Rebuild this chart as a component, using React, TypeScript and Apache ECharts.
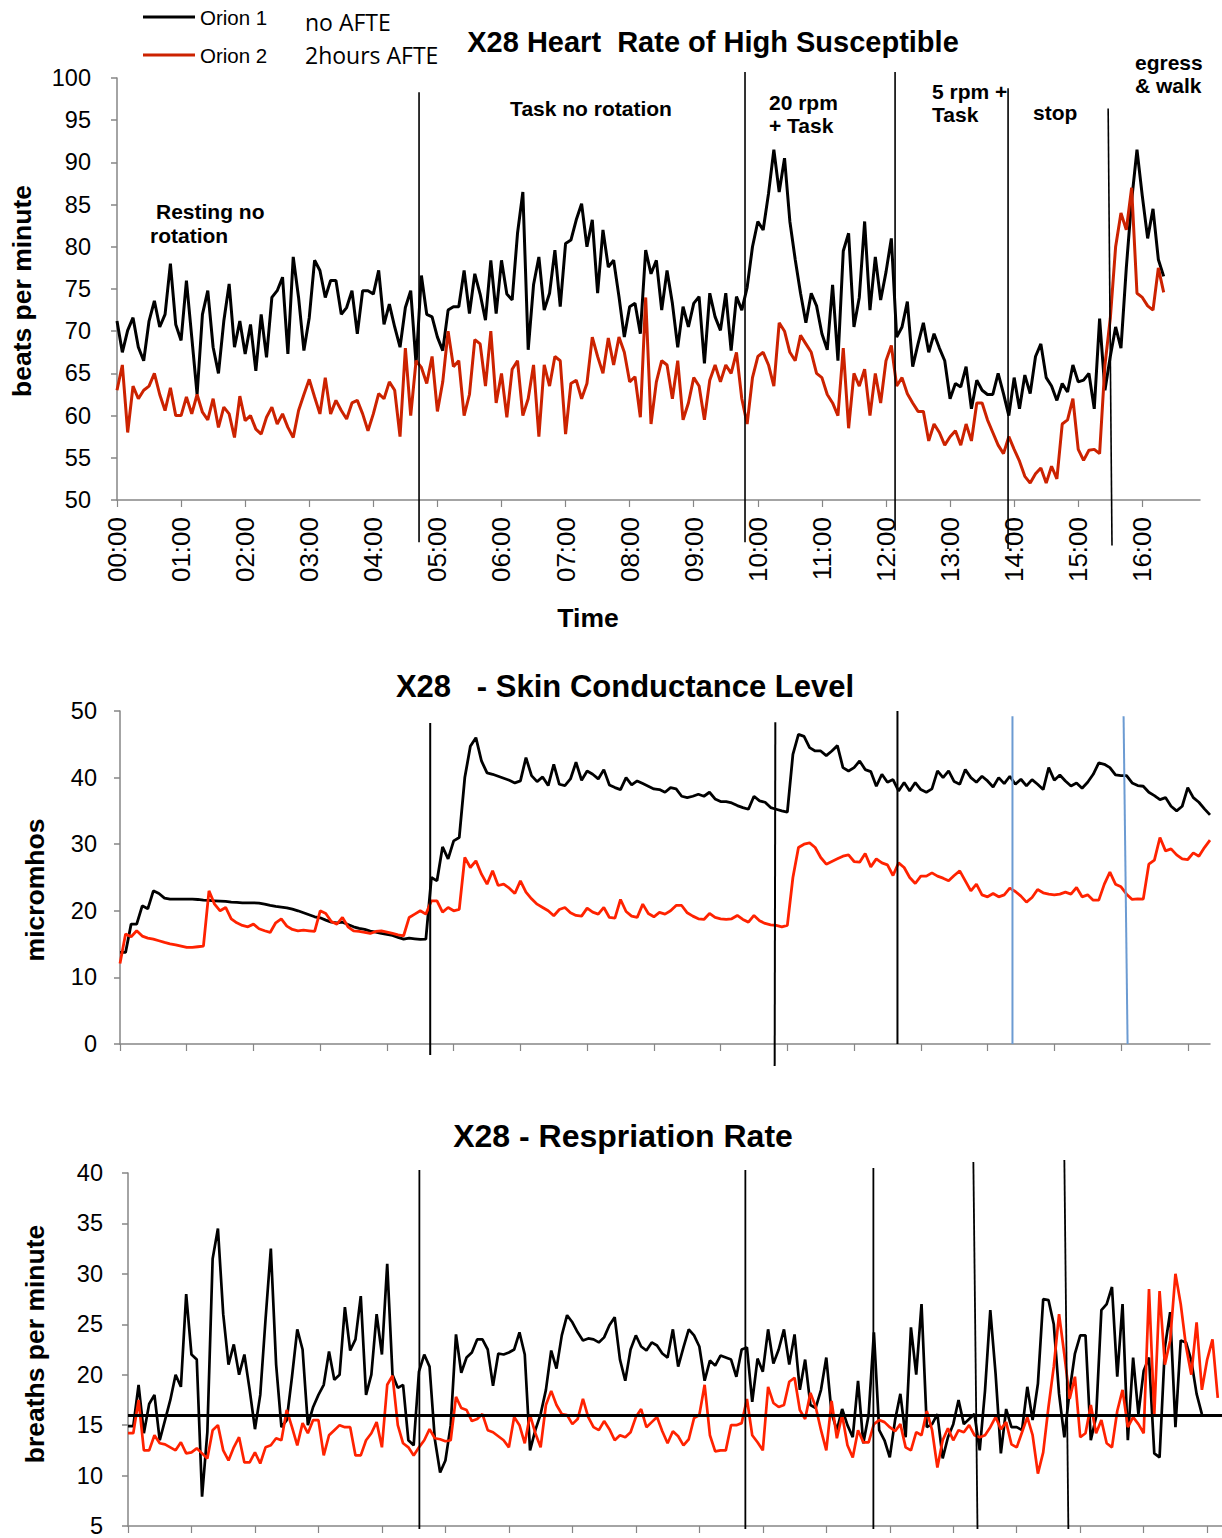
import React, { useEffect, useRef } from "react";
import * as echarts from "echarts";

// ---------- data ----------
const HR_STEP = 5; // minutes between samples
const SCL_STEP = 5;
const RR_STEP = 5;

const hrOrion1 = [71.2, 67.5, 70.1, 71.6, 68.1, 66.5, 71.2, 73.6, 70.5, 72,
  78, 70.8, 68.9, 76, 69.3, 62.5, 72, 74.8, 68.1, 65,
  71.2, 75.6, 68.1, 71.2, 67.3, 70.8, 65.3, 72, 66.9, 74,
  74.8, 76.4, 67.3, 78.8, 74, 67.7, 71.6, 78.4, 77.2, 74,
  76, 76, 72, 72.8, 74.8, 69.7, 74.8, 74.8, 74.4, 77.2,
  70.8, 73.2, 70.5, 68.1, 72.8, 74.8, 66.1, 76.6, 72, 71.7,
  69.3, 67.7, 72.5, 72.9, 72.9, 77.2, 72.1, 76.8, 74.4, 71.3,
  78.4, 72.1, 78.4, 74.4, 73.7, 81.6, 86.5, 67.8, 75.5, 78.8,
  72.5, 74.5, 79.6, 72.9, 80.4, 80.8, 83.2, 85.1, 80, 83.2,
  74.5, 82, 77.6, 78.4, 74.1, 69.3, 72.9, 73.3, 69.7, 79.6,
  76.8, 78.4, 72.5, 77.2, 73.3, 68.1, 72.9, 70.5, 73.3, 74.1,
  66.2, 74.5, 71.7, 70.1, 74.5, 67.7, 74.1, 72.5, 75.2, 80,
  83, 82, 86.3, 91.5, 86.5, 90.5, 83, 78.5, 74.5, 71,
  74.5, 73, 69.7, 67.8, 75.5, 66.5, 79.5, 81.6, 70.5, 74,
  83, 72.5, 78.8, 73.7, 77, 81, 69.3, 70.5, 73.5, 65.8,
  68.5, 71, 67.5, 69.7, 68, 66.5, 62, 63.8, 63.4, 65.8,
  60.8, 64.2, 63, 62.5, 62.5, 65, 62.6, 60, 64.5, 60.8,
  64.8, 62.6, 67, 68.5, 64.5, 63.5, 61.8, 63.8, 62.8, 66,
  64, 64.2, 65, 60.8, 71.5, 63, 67, 70.5, 68, 77.5,
  85.5, 91.5, 86, 81, 84.5, 78.5, 76.5];

const hrOrion2 = [63, 66, 58, 63.5, 62, 63, 63.5, 65, 62.5, 60.6,
  63.3, 60, 60, 62.2, 60.2, 62.5, 60.4, 59.5, 62, 58.6,
  61, 60.2, 57.4, 62.3, 59.4, 60, 58.4, 57.8, 59.8, 61,
  59, 60.2, 58.6, 57.4, 60.6, 62.5, 64.3, 62.2, 60.2, 64.5,
  60.2, 61.8, 60.6, 59.6, 61.5, 61.8, 60.2, 58.2, 60.2, 62.6,
  62, 64, 63, 57.5, 68, 60, 66.5, 65.7, 63.8, 67,
  60.5, 64, 70, 65.8, 66.5, 60, 62.5, 69, 68.5, 63.5,
  70, 61.5, 65, 59.8, 65.5, 66.5, 60, 62, 66, 57.5,
  66, 63.5, 67, 66.5, 57.8, 63.8, 64.2, 62, 63.8, 69.3,
  67, 65, 69.2, 66, 69.3, 67.5, 64, 64.6, 59.8, 74,
  59, 64, 66.5, 66, 62, 66.5, 59.5, 61.5, 64.5, 63.5,
  59.5, 64.2, 66, 64, 66, 65, 67.5, 62, 59, 64.5,
  67, 67.5, 66, 63.5, 71, 70, 67.5, 66.5, 69.5, 68.5,
  67.5, 65, 64.5, 62.5, 61.5, 60, 68, 58.5, 65, 63.5,
  65.5, 60, 65, 61.5, 66.5, 68.3, 63.5, 64.5, 62.6, 61.5,
  60.5, 60.5, 57, 59, 58, 56.5, 57.5, 58.2, 56.5, 59,
  57, 61.5, 61.5, 59.5, 58, 56.5, 55.5, 57.5, 56, 54.6,
  52.8, 52, 53.1, 53.8, 52, 54, 52.5, 59, 59.5, 62,
  56, 54.7, 55.9, 56, 55.5, 66, 71.5, 80, 84, 82,
  87, 74.5, 74, 73, 72.5, 77.5, 74.6];

const sclOrion1 = [13.75, 13.75, 18, 18, 20.75, 20.3, 23, 22.6, 21.9, 21.75,
  21.75, 21.75, 21.75, 21.75, 21.7, 21.6, 21.55, 21.5, 21.45, 21.4,
  21.3, 21.25, 21.2, 21.2, 21.2, 21.15, 21, 20.8, 20.65, 20.55,
  20.45, 20.25, 20, 19.7, 19.4, 19.1, 18.95, 18.6, 18.3, 18.2,
  18.3, 17.95, 17.6, 17.35, 17.2, 16.95, 16.8, 16.6, 16.45, 16.3,
  16, 15.75, 15.9, 15.8, 15.7, 15.75, 25, 24.5, 29.6, 27.8,
  30.5, 31, 40, 44.7, 46, 42.5, 40.7, 40.5, 40.2, 39.9,
  39.6, 39.2, 39.5, 43, 40.3, 39.4, 40.1, 38.8, 42, 39,
  38.8, 39.8, 42.3, 39.6, 41, 40.5, 39.8, 41.2, 38.9, 38.5,
  38.2, 40, 38.9, 39.5, 39.1, 38.7, 38.3, 38.2, 37.8, 38.5,
  38.3, 37.2, 37, 37.2, 37.5, 37.2, 37.8, 36.8, 36.4, 36.4,
  36.2, 35.8, 35.5, 35.25, 37.2, 36.5, 36.3, 35.5, 35.25, 35,
  34.8, 43.5, 46.5, 46.2, 44.5, 44, 44, 43.3, 44, 44.8,
  41.5, 41, 41.5, 42.5, 41.2, 40.9, 38.7, 40.5, 39.3, 39.7,
  38, 39.25, 38, 39.25, 38.2, 37.8, 38.3, 41, 40, 41,
  39.4, 39, 41.2, 40, 39.3, 40.2, 39.5, 38.6, 40, 39.1,
  40.2, 39, 39.75, 38.75, 39.7, 39, 38.2, 41.5, 39.6, 40.4,
  39.5, 38.75, 39.2, 38.4, 39.3, 40.5, 42.2, 42, 41.5, 40.4,
  40.3, 40.3, 39.2, 38.8, 38.7, 37.8, 37.3, 36.7, 37, 35.7,
  35, 35.7, 38.5, 37, 36.3, 35.3, 34.4];

const sclOrion2 = [12.1, 16.5, 16.1, 17, 16.2, 15.9, 15.75, 15.5, 15.25, 15.05,
  14.9, 14.7, 14.5, 14.5, 14.6, 14.7, 23, 21, 20, 20.5,
  18.8, 18.2, 17.8, 17.6, 18, 17.3, 17, 16.75, 18.2, 18.8,
  17.7, 17.2, 17, 17.1, 17, 16.9, 20, 19.6, 18.4, 18,
  19, 17.6, 17, 16.9, 16.75, 16.6, 16.9, 17, 16.8, 16.6,
  16.4, 16.25, 19, 19.5, 20, 19.5, 21.5, 21.5, 19.8, 20.5,
  20, 20.2, 28, 26.5, 27.5, 25.5, 24, 26, 23.8, 24,
  23.4, 22.6, 24.5, 22.8, 21.8, 21, 20.5, 20, 19.25, 20.2,
  20.5, 19.7, 19.3, 19.2, 20.4, 19.8, 19.5, 20.5, 19, 18.9,
  21.7, 19.9, 19.2, 19, 21, 19.6, 19.1, 19.75, 19.5, 20,
  20.8, 20.8, 19.7, 19.2, 18.8, 18.7, 19.6, 19, 18.8, 18.7,
  18.8, 19.3, 18.7, 18.3, 19.3, 18.5, 18.1, 17.9, 17.8, 17.6,
  17.8, 25, 29.5, 30, 30.2, 29.5, 28, 27, 27.4, 27.8,
  28.2, 28.4, 27.4, 27.3, 28.6, 26.6, 27.8, 27.2, 26.9, 25.3,
  27.2, 26.5, 25, 24.1, 25.2, 25.2, 25.7, 25.2, 24.9, 24.5,
  25.3, 26, 24.5, 23, 24, 22.4, 22.1, 22.6, 22.1, 22.4,
  23.4, 22.9, 22.2, 21.3, 22, 23.2, 22.7, 22.5, 22.4, 22.5,
  22.8, 22.5, 23.5, 22.1, 22.4, 21.6, 21.6, 24, 25.8, 24,
  23.6, 22.5, 21.7, 21.8, 21.75, 27, 27.6, 31, 29, 29.3,
  28.4, 27.8, 27.7, 28.7, 28.2, 29.5, 30.6];

const rrOrion1 = [14.9, 14.9, 19, 14.2, 17.1, 18, 13.5, 15.5, 17.5, 20,
  18.8, 28, 22, 21.5, 7.9, 14.3, 31.5, 34.5, 26, 21,
  23, 20, 22, 18.5, 14.6, 18, 25.5, 32.5, 21, 14.8,
  15.5, 19.8, 24.5, 22.5, 15, 16.8, 18, 19, 22.3, 19.5,
  20, 26.7, 22.4, 23.5, 27.8, 18, 20, 26, 22, 31,
  20, 18.7, 19, 13.5, 13, 20.3, 22, 20.8, 13.6, 10.3,
  11.5, 15, 24, 20.2, 21.7, 22.2, 23.5, 23.5, 22.5, 18.9,
  22.1, 22, 22.2, 22.5, 24.2, 22, 12.5, 14.5, 16.1, 18.5,
  22.4, 20.6, 23.9, 25.9, 25.2, 24.2, 23.4, 23.6, 23.5, 23.2,
  23.7, 24.9, 25.7, 21.5, 19.4, 22.5, 23.9, 22.8, 22.4, 23.2,
  22.9, 22.1, 21.7, 24.5, 20.8, 22.7, 24.5, 23.9, 22.8, 19.4,
  21.4, 20.9, 21.9, 21.7, 21.5, 19.8, 22.5, 22.7, 17.3, 21.6,
  20.3, 24.5, 21.1, 22.5, 24.5, 21, 24, 18.5, 21.5, 17,
  16.7, 18.5, 21.7, 16.2, 14.5, 16.6, 15, 13.8, 19.4, 13.2,
  16, 24.2, 14.5, 13.5, 11.8, 15.5, 18.1, 13.8, 24.7, 20,
  27, 14.8, 15.1, 16.1, 11.7, 13.8, 15.1, 17.5, 15.1, 15.6,
  16.1, 12.5, 18.4, 26.4, 20.1, 12.2, 16.6, 14.8, 14.8, 14.5,
  18.8, 15.5, 19.1, 27.5, 27.4, 25, 18.1, 13.8, 18.4, 22.1,
  23.9, 23.9, 13.5, 15.8, 26.4, 27, 28.7, 19.8, 27, 13.5,
  21.7, 16.1, 20.4, 21.7, 12.2, 11.8, 22.7, 26.2, 14.8, 23.4,
  23.2, 21.4, 18.1, 16.1];

const rrOrion2 = [14.2, 14.2, 17.5, 12.5, 12.5, 14, 13.2, 13.1, 12.8, 12.5,
  13.3, 12.2, 12.3, 12.7, 12.2, 11.7, 14.5, 15, 12.5, 11.5,
  12.8, 13.8, 11.3, 11.3, 12.3, 11.2, 12.8, 13, 13.7, 13.5,
  16.5, 14.8, 13, 15.2, 14.2, 15.5, 15.5, 12, 14, 14.5,
  15, 14.8, 14.8, 12, 12, 13.5, 14.2, 15.3, 12.8, 19,
  19.9, 15, 13.2, 12.8, 12, 12.8, 13.5, 14.6, 13.7, 13.6,
  13.4, 13.5, 17.8, 16.7, 16.5, 15.4, 15.6, 16.1, 14.5, 14.3,
  13.9, 13.5, 12.8, 15.8, 15, 13.2, 16, 14.2, 12.8, 17,
  18.4, 17, 16.1, 16, 15.1, 15.6, 17.6, 15.8, 14.8, 14.5,
  15.4, 14.6, 13.5, 14, 13.8, 14.3, 15.8, 16.6, 14.8, 15.3,
  15.8, 14.4, 13.2, 14.4, 13.9, 13, 13.6, 15.7, 16, 19,
  14, 12.4, 12.5, 12.5, 15, 15, 15.2, 17.6, 14, 13.3,
  12.5, 18.8, 17.2, 16.8, 17, 19.3, 19.7, 16.5, 15.6, 18.2,
  16.8, 14.5, 12.5, 17.4, 13.7, 16, 13, 11.8, 14.5, 13.3,
  13.3, 15.1, 15.5, 15.3, 14.8, 14.4, 15.1, 12.8, 12.5, 14.3,
  14, 16.4, 14.5, 10.8, 13.5, 14.7, 13.5, 14.5, 14.3, 15,
  14, 13.8, 14, 14.8, 15.8, 14.6, 15.3, 13.1, 12.8, 14.3,
  15.8, 14, 10.2, 12.3, 16.8, 20.8, 26, 22, 17.6, 19.8,
  13.8, 14.2, 17, 14.2, 15.5, 13.2, 12.8, 16.4, 18.5, 14.8,
  15.8, 15.1, 14.2, 28.5, 16, 28.3, 21, 23.4, 30, 27,
  22.8, 20, 25.2, 18.5, 21.5, 23.5, 17.7];

const hourTicks = [0, 60, 120, 180, 240, 300, 360, 420, 480, 540, 600, 660, 720, 780, 840, 900, 960];
const rrTicks = [...hourTicks, 1020];

// phase boundary lines: [t top, t bottom, value top, value bottom]
const hrPhaseLines = [[282.8, 282.8, 98.3, 45.0], [588, 588, 100.7, 45.0], [728.5, 728.5, 100.7, 46.4], [834.3, 834.3, 98.8, 44.2], [928, 931.6, 96.4, 44.6]];
const sclPhaseLines = [[278.9, 278.9, 48.2, -1.65], [589.2, 588.6, 48.3, -3.3], [699, 699, 50, 0]];
const sclBlueLines = [[802.4, 802.4, 49.2, 0], [902.3, 905.9, 49.2, 0]];
const rrPhaseLines = [[275.4, 275.4, 40.3, 4.7], [583.5, 583.5, 40.3, 4.7], [704.5, 704.5, 40.5, 4.7], [799, 802.9, 41.1, 4.7], [885, 888.8, 41.3, 4.7]];

const FONT = '"Liberation Sans", Arial, sans-serif';
const BLACK = "#000000";
const RED_DARK = "#cc2200";
const RED = "#ff2200";
const AXIS_GREY = "#868686";

const toPairs = (vals: number[], step: number) => vals.map((v, i) => [i * step, v]);
const hhmm = (v: number) => {
  const h = Math.round(v / 60);
  return (h < 10 ? "0" : "") + h + ":00";
};

function yAxisBase(grid: number, min: number, max: number, interval: number, margin: number) {
  return {
    gridIndex: grid, type: "value", min, max, interval,
    axisLine: { show: true, lineStyle: { color: AXIS_GREY, width: 1.5 } },
    axisTick: { show: true, length: 6, lineStyle: { color: AXIS_GREY, width: 1.5 } },
    axisLabel: { show: true, fontSize: 23.5, color: BLACK, fontFamily: FONT, margin },
    splitLine: { show: false },
  };
}

function xAxisBase(grid: number, max: number, ticks: number[], showLabels: boolean) {
  return {
    gridIndex: grid, type: "value", min: 0, max,
    axisLine: { show: true, onZero: false, lineStyle: { color: AXIS_GREY, width: 1.5 } },
    axisTick: { show: true, customValues: ticks, length: 7, lineStyle: { color: AXIS_GREY, width: 1.2 } },
    axisLabel: showLabels
      ? { show: true, customValues: ticks, rotate: 90, fontSize: 26, margin: 17, color: BLACK, fontFamily: FONT, formatter: hhmm }
      : { show: false },
    splitLine: { show: false },
  };
}

function lineSeries(name: string, data: number[][], idx: number, color: string, width: number, extra: any = {}) {
  return {
    name, type: "line", xAxisIndex: idx, yAxisIndex: idx, data,
    showSymbol: false, symbol: "none", animation: false,
    lineStyle: { color, width }, itemStyle: { color }, ...extra,
  };
}

function text(x: number, y: number, t: string, font: string, align = "left", rotation = 0) {
  return {
    type: "text", x, y, rotation, z: 110, silent: true,
    style: { text: t, font, fill: BLACK, align, verticalAlign: "middle", textAlign: align, textVerticalAlign: "middle" },
  };
}

export default function App() {
  const ref = useRef<HTMLDivElement>(null);
  useEffect(() => {
    if (!ref.current) return;
    const chart = echarts.init(ref.current, undefined, { renderer: "svg" });
    const option: any = {
      animation: false,
      textStyle: { fontFamily: FONT },
      legend: {
        data: ["Orion 1", "Orion 2"], orient: "vertical", left: 143, top: 6, padding: 0,
        icon: "rect", itemWidth: 52, itemHeight: 3, itemGap: 16, selectedMode: false,
        textStyle: { fontSize: 20.5, color: BLACK, fontFamily: FONT, lineHeight: 22 },
      },
      grid: [
        { left: 117, top: 78, width: 1083, height: 422 },
        { left: 120, top: 711, width: 1090, height: 333 },
        { left: 128, top: 1173, width: 1094, height: 354 },
      ],
      xAxis: [
        xAxisBase(0, 1014, hourTicks, true),
        xAxisBase(1, 980, hourTicks, false),
        xAxisBase(2, 1034, rrTicks, false),
      ],
      yAxis: [
        yAxisBase(0, 50, 100, 5, 26),
        yAxisBase(1, 0, 50, 10, 23),
        yAxisBase(2, 5, 40, 5, 25),
      ],
      series: [
        lineSeries("Orion 1", toPairs(hrOrion1, HR_STEP), 0, BLACK, 3),
        lineSeries("Orion 2", toPairs(hrOrion2, HR_STEP), 0, RED_DARK, 3),
        lineSeries("Orion 1", toPairs(sclOrion1, SCL_STEP), 1, BLACK, 2.8),
        lineSeries("Orion 2", toPairs(sclOrion2, SCL_STEP), 1, RED, 2.8),
        lineSeries("Orion 1", toPairs(rrOrion1, RR_STEP), 2, BLACK, 2.7),
        lineSeries("Orion 2", toPairs(rrOrion2, RR_STEP), 2, RED, 2.7, {
          markLine: {
            silent: true, symbol: ["none", "none"], animation: false,
            label: { show: false },
            lineStyle: { color: BLACK, width: 3, type: "solid" },
            data: [{ yAxis: 16 }],
          },
        }),
      ],
    };
    chart.setOption(option);

    const lines: any[] = [];
    const addLines = (grid: number, list: number[][], color: string, width: number) => {
      list.forEach(([t1, t2, v1, v2]) => {
        const p1 = chart.convertToPixel({ gridIndex: grid } as any, [t1, v1]) as number[];
        const p2 = chart.convertToPixel({ gridIndex: grid } as any, [t2, v2]) as number[];
        lines.push({
          type: "line", z: 100, silent: true,
          shape: { x1: p1[0], y1: p1[1], x2: p2[0], y2: p2[1] },
          style: { stroke: color, lineWidth: width },
        });
      });
    };
    addLines(0, hrPhaseLines, BLACK, 1.6);
    addLines(1, sclPhaseLines, BLACK, 2);
    addLines(1, sclBlueLines, "#6c9bd2", 2);
    addLines(2, rrPhaseLines, BLACK, 1.8);

    const B21 = `bold 21px ${FONT}`;
    const B26 = `bold 26.5px ${FONT}`;
    const LEG = `23px "Open Sans", "Noto Sans", sans-serif`;
    const texts = [
      text(305, 22, "no AFTE", LEG),
      text(305, 55, "2hours AFTE", LEG),
      text(713, 42, "X28 Heart  Rate of High Susceptible", `bold 29px ${FONT}`, "center"),
      text(625, 686, "X28   - Skin Conductance Level", `bold 31px ${FONT}`, "center"),
      text(623, 1136, "X28 - Respriation Rate", `bold 32px ${FONT}`, "center"),
      text(156, 211, "Resting no", B21),
      text(150, 235, "rotation", B21),
      text(591, 108, "Task no rotation", B21, "center"),
      text(769, 102, "20 rpm", B21),
      text(769, 125, "+ Task", B21),
      text(932, 91, "5 rpm +", B21),
      text(932, 114, "Task", B21),
      text(1033, 112, "stop", B21),
      text(1135, 62, "egress", B21),
      text(1135, 85, "& walk", B21),
      text(588, 618, "Time", B26, "center"),
      text(22, 291, "beats per minute", B26, "center", Math.PI / 2),
      text(35, 890, "micromhos", B26, "center", Math.PI / 2),
      text(35, 1344, "breaths per minute", B26, "center", Math.PI / 2),
    ];
    chart.setOption({ graphic: { elements: [...lines, ...texts] } });

    return () => chart.dispose();
  }, []);
  return (
    <div
      ref={ref}
      style={{ position: "absolute", left: 0, top: 0, width: 1222, height: 1538, background: "#fff" }}
    />
  );
}
